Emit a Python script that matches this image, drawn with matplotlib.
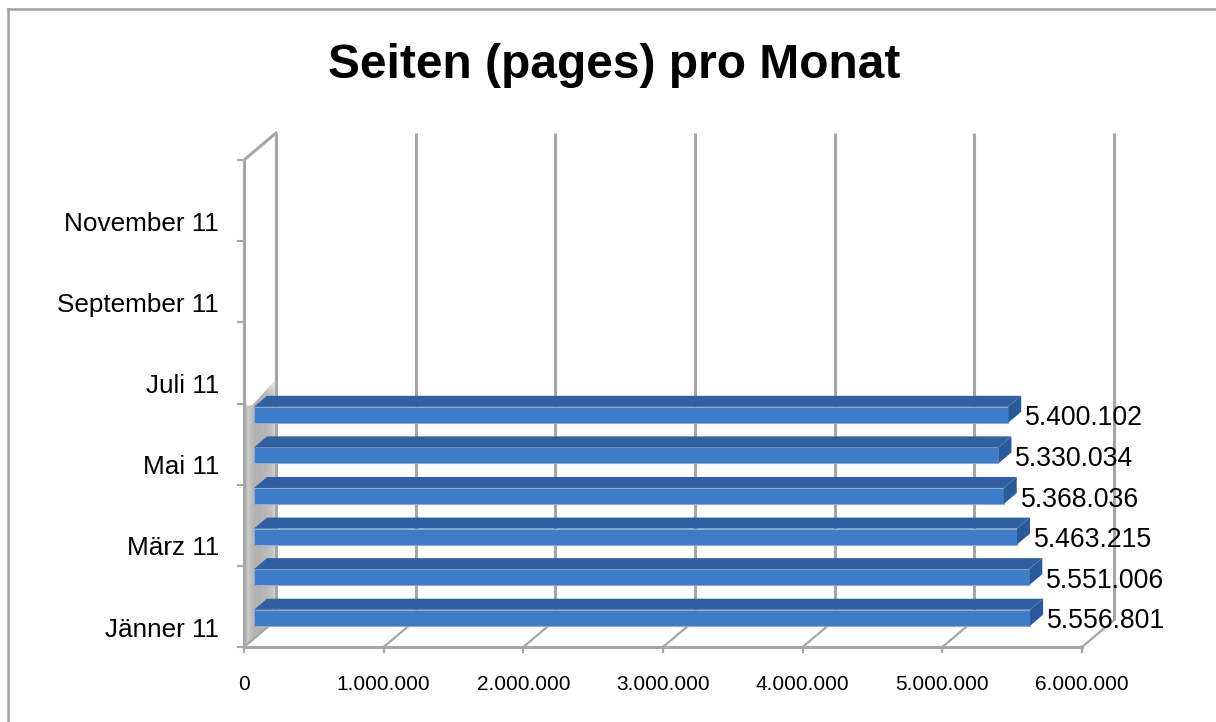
import matplotlib
matplotlib.use('Agg')
import matplotlib.pyplot as plt
from matplotlib.patches import Polygon, Rectangle
from matplotlib.transforms import ScaledTranslation
import numpy as np

plt.rcParams['font.family'] = ['Liberation Sans', 'DejaVu Sans']

W, H = 1216, 722

TITLE = "Seiten (pages) pro Monat"
months = ["Jänner 11", "Februar 11", "März 11", "April 11", "Mai 11", "Juni 11",
          "Juli 11", "August 11", "September 11", "Oktober 11", "November 11", "Dezember 11"]
values = [5556801, 5551006, 5463215, 5368036, 5330034, 5400102]
xticks = [0, 1000000, 2000000, 3000000, 4000000, 5000000, 6000000]

GRID = '#a6a6a6'
FRONT = '#3d7cc9'
TOP = '#325fa2'
SIDE = '#2a5a9a'

def de_fmt(v):
    return f"{v:,}".replace(",", ".")

fig = plt.figure(figsize=(W / 100, H / 100), dpi=100)

# outer frame of the chart, only top and left show in the crop
fig.add_artist(plt.Line2D([8 / W, 8 / W], [0, 1 - 9 / H], transform=fig.transFigure, color='#a0a0a0', lw=1.8))
fig.add_artist(plt.Line2D([8 / W, 1], [1 - 9 / H, 1 - 9 / H], transform=fig.transFigure, color='#a0a0a0', lw=1.8))

# front plane of the fake 3d box
ax = fig.add_axes([244 / W, 1 - 647 / H, 838 / W, 487 / H])
ax.set_xlim(0, 6000000)
ax.set_ylim(0, 12)
ax.axis('off')

def shifted(dx, dy):
    # pixel offset on top of the data coords (dpi 100 -> points)
    return ax.transData + ScaledTranslation(dx / 100, dy / 100, fig.dpi_scale_trans)

DX, DY = 32, 27
back = shifted(DX, DY)
xs = np.array(xticks)

# grey shade the bars throw on the side wall, fades out towards the top
grad = np.array([0.72, 0.80, 0.74, 0.71, 0.70, 0.70, 0.71, 0.72, 0.74, 0.76, 0.82])
shade = np.ones((80, grad.size, 4))
shade[..., :3] = grad[None, :, None]
shade[:, :, 3] = np.clip((6.8 - np.linspace(0, 6.9, 80)) / 0.55, 0, 1)[:, None]
x_w = 6000000 * 32 / 838
im = ax.imshow(shade, extent=(0, x_w, 0, 6.9), aspect='auto',
               origin='lower', zorder=1, interpolation='bilinear')
ax.set_xlim(0, 6000000)
ax.set_ylim(0, 12)
wall = Polygon([(0, 0), (x_w, 27 / 40.6), (x_w, 6.6), (6000000 * 8 / 838, 5.95), (0, 5.95)],
               transform=ax.transData, facecolor='none', edgecolor='none')
ax.add_patch(wall)
im.set_clip_path(wall)

# gridlines on the back wall + floor lines
for x in xs:
    ax.plot([x, x], [0, 12], transform=back, color=GRID, lw=2.2, clip_on=False, zorder=2,
            solid_capstyle='butt')
for x in xs:
    x2 = x + 6000000 * DX / 838
    ax.plot([x, x2], [0, DY / 40.6], color=GRID, lw=1.6, clip_on=False, zorder=2)
    ax.plot([x, x], [0, -5 / 40.6], color=GRID, lw=1.6, clip_on=False, zorder=2)
    ax.text(x, -0.92, de_fmt(x), ha='center', va='center', fontsize=15, color='black')

# left axis and bottom axis of the front plane
ax.plot([0, 0], [0, 12], color=GRID, lw=2.2, clip_on=False, zorder=3)
ax.plot([0, 6000000], [0, 0], color=GRID, lw=2.2, clip_on=False, zorder=3)
ax.plot([0, 6000000 * DX / 838], [12, 12 + DY / 40.6], color=GRID, lw=2.2, clip_on=False, zorder=3)
for i in range(0, 13, 2):
    ax.plot([-6000000 * 6 / 838, 0], [i, i], color=GRID, lw=1.5, clip_on=False, zorder=3)

for i in range(0, 12, 2):
    ax.text(-6000000 * 25 / 838, i + 0.43, months[i], ha='right', va='center',
            fontsize=18.8, color='black')

# bars, each one front face + top + side
bar_h = 16 / 40.6
fdx, fdy = 10, 9
tdx, tdy = 13, 11
front = shifted(fdx, fdy)
px_x = 6000000 / 838
px_y = 1 / 40.6
for i, v in enumerate(values):
    y0 = i + 0.5 - bar_h / 2
    y1 = i + 0.5 + bar_h / 2
    ax.add_patch(Rectangle((0, y0), v, bar_h, transform=front, facecolor=FRONT,
                           edgecolor='#8fa9cf', linewidth=0.8, zorder=5, clip_on=False))
    ax.add_patch(Polygon([(0, y1), (v, y1), (v + tdx * px_x, y1 + tdy * px_y), (tdx * px_x, y1 + tdy * px_y)],
                         transform=front, facecolor=TOP, edgecolor='none', zorder=5, clip_on=False))
    ax.add_patch(Polygon([(v, y0), (v, y1), (v + tdx * px_x, y1 + tdy * px_y), (v + tdx * px_x, y0 + tdy * px_y)],
                         transform=front, facecolor=SIDE, edgecolor='none', zorder=5, clip_on=False))
    ax.text(v + 17 * px_x, i + 0.41, de_fmt(v), transform=front, ha='left', va='center',
            fontsize=19.2, color='black', zorder=6, clip_on=False)

fig.text(614 / W, 1 - 66 / H, TITLE, ha='center', va='center', fontsize=34.5, fontweight='bold', color='black')

fig.savefig('out.png', dpi=100)
